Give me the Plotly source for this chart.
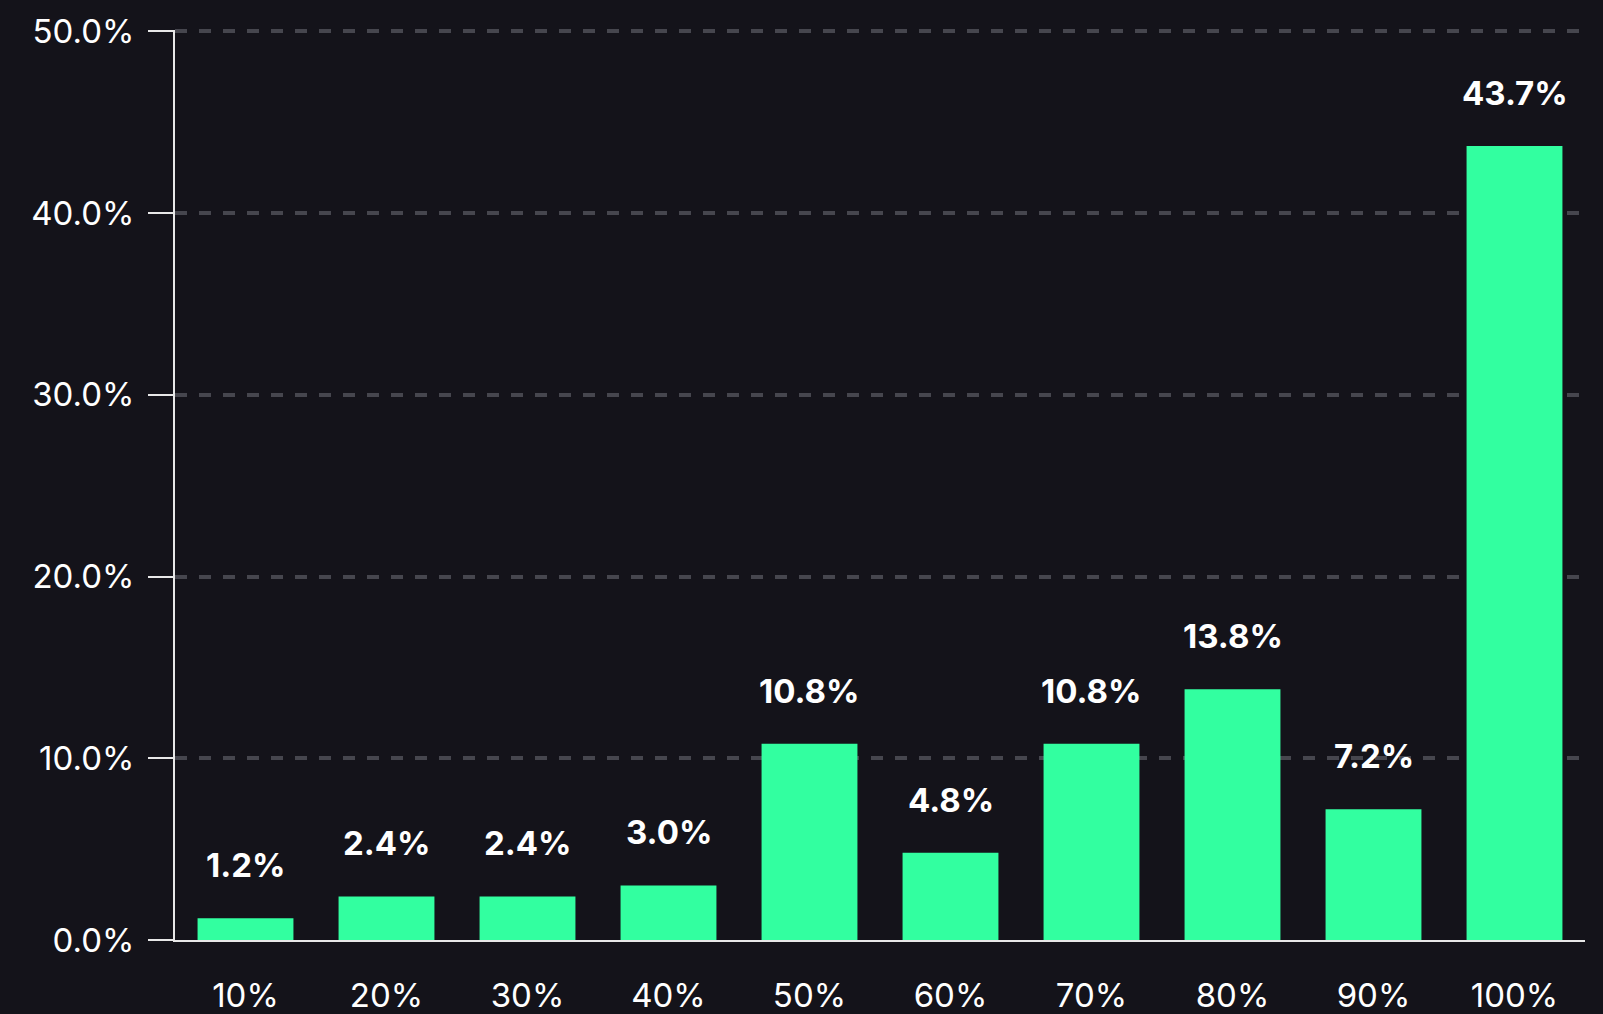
import plotly.graph_objects as go

categories = ["10%", "20%", "30%", "40%", "50%", "60%", "70%", "80%", "90%", "100%"]
values = [1.2, 2.4, 2.4, 3.0, 10.8, 4.8, 10.8, 13.8, 7.2, 43.7]
labels = [f"{v:.1f}%" for v in values]
ytick_vals = [0, 10, 20, 30, 40, 50]
ytick_text = [f"{v:.1f}%" for v in ytick_vals]

BG = "#14131a"
BAR = "#32ffa0"
FONT = "Inter"

fig = go.Figure()
fig.add_trace(go.Bar(
    x=categories, y=values,
    marker=dict(color=BAR, line=dict(width=0)),
    width=0.68,
    hoverinfo="skip",
))

for c, v, t in zip(categories, values, labels):
    fig.add_annotation(
        x=c, y=v, text=f"<b>{t}</b>", showarrow=False,
        yanchor="bottom", yshift=31,
        font=dict(family=FONT, size=33, color="#ffffff"),
    )

fig.update_layout(
    width=1603, height=1014,
    paper_bgcolor=BG, plot_bgcolor=BG,
    margin=dict(l=175, r=18, t=30, b=74),
    showlegend=False,
    font=dict(family=FONT, color="#ffffff"),
    bargap=0.32,
)
fig.update_xaxes(
    type="category",
    automargin=False,
    showline=True, linecolor="#e8e8e8", linewidth=2,
    showgrid=False, ticks="",
    tickfont=dict(family=FONT, size=33, color="#ffffff"),
    ticklabelstandoff=25,
    zeroline=False,
)
fig.update_yaxes(
    range=[0, 50.08],
    automargin=False,
    tickvals=ytick_vals, ticktext=ytick_text,
    showline=True, linecolor="#e8e8e8", linewidth=2,
    ticks="outside", ticklen=25, tickwidth=2, tickcolor="#e8e8e8",
    tickfont=dict(family=FONT, size=33, color="#ffffff"),
    ticklabelstandoff=7,
    showgrid=True, gridcolor="#46464e", gridwidth=3.5, griddash="12px,12px",
    zeroline=False,
)

fig.write_html(
    "out.html",
    config={"displayModeBar": False},
    post_script=f"document.body.style.margin='0';document.body.style.background='{BG}';",
)
